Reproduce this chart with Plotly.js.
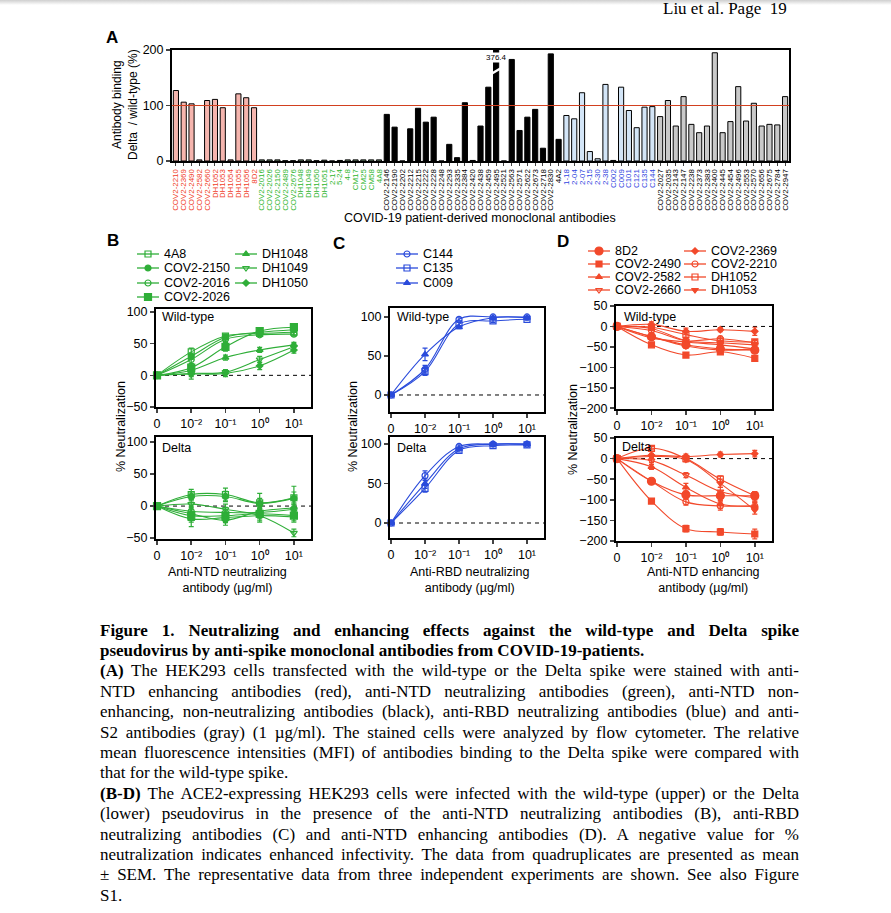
<!DOCTYPE html>
<html><head><meta charset="utf-8">
<script src="https://cdn.plot.ly/plotly-3.0.1.min.js"></script>
<style>
body{margin:0;padding:0;background:#fff;}
#wrap{position:relative;width:891px;height:913px;overflow:hidden;background:#fff;}
#chart{position:absolute;left:0;top:0;width:891px;height:913px;}
.cap{position:absolute;left:100px;width:720px;font-family:"Liberation Serif","Times New Roman",serif;font-size:17px;line-height:21px;height:21px;color:#000;white-space:nowrap;}
.cap span{display:inline-block;white-space:nowrap;}
#hdr{position:absolute;left:663px;top:-1px;font-family:"Liberation Serif","Times New Roman",serif;font-size:17px;line-height:20px;color:#000;white-space:pre;}
#shade{position:absolute;left:0;top:0;width:891px;height:5px;background:linear-gradient(#cfcfcf,#fff);}
</style></head>
<body><div id="wrap"><div id="chart"></div><div id="shade"></div><div id="hdr">Liu et al. Page  19</div><div id="caption"></div></div>
<script>
// ---------- Panel A data ----------
const redNames=['COV2-2210','COV2-2369','COV2-2490','COV2-2582','COV2-2660','DH1052','DH1053','DH1054','DH1055','DH1056','8D2'];
const redVals=[127,106,103,2,109,111,96,2,121,114,96];
const greenNames=['COV2-2016','COV2-2026','COV2-2150','COV2-2489','COV2-2676','DH1048','DH1049','DH1050','DH1051','2-17','5-24','4-8','CM17','CM25','CM58','4A8'];
const greenVals=[2,2,2,0.5,0.5,2,2,0.5,1.5,0,1,2,2,2,2,2];
const blackNames=['COV2-2146','COV2-2190','COV2-2202','COV2-2212','COV2-2215','COV2-2222','COV2-2228','COV2-2248','COV2-2293','COV2-2335','COV2-2384','COV2-2420','COV2-2438','COV2-2459','COV2-2495','COV2-2521','COV2-2563','COV2-2571','COV2-2622','COV2-2673','COV2-2718','COV2-2830','4A2'];
const blackVals=[84,61,0,58,95,70,79,0,30,6,105,1,63,133,376.4,0,183,55,79,93,23,193,39];
const blueNames=['1-18','2-04','2-07','2-15','2-30','2-38','C002','C009','C101','C121','C135','C144'];
const blueVals=[82,76,123,17,4,138,1,133,91,60,97,98];
const grayNames=['COV2-2027','COV2-2035','COV2-2143','COV2-2147','COV2-2238','COV2-2373','COV2-2383','COV2-2400','COV2-2445','COV2-2454','COV2-2496','COV2-2553','COV2-2570','COV2-2656','COV2-2675','COV2-2784','COV2-2947'];
const grayVals=[80,109,63,116,66,51,63,195,51,71,134,72,104,63,66,65,116];
const brokenLabel='376.4';

// ---------- Panels B-D data ----------
const conc=[0,0.01,0.1,1,10];
const concTickText=['0','10\u207B\u00B2','10\u207B\u00B9','10\u2070','10\u00B9'];

const bNames=['4A8','COV2-2150','COV2-2016','COV2-2026','DH1048','DH1049','DH1050'];
const bWT=[[0,37,62,66,68],[0,30,60,68,72],[0,25,57,64,65],[0,12,45,70,76],[0,8,28,40,48],[0,3,5,25,45],[0,2,3,15,40]];
const bWTerr=[[1,6,3,3,4],[1,5,4,3,3],[1,6,4,3,3],[1,6,7,3,4],[1,5,4,4,4],[1,9,4,5,5],[1,4,5,6,5]];
const bDelta=[[0,18,18,5,13],[0,15,15,4,12],[0,-8,-10,-10,-5],[0,-15,-15,-12,-15],[0,-20,-18,-15,-17],[0,3,-5,-15,-42],[0,-12,-22,-8,-3]];
const bDeltaErr=[[1,8,10,15,18],[1,7,8,8,10],[1,8,8,8,8],[1,10,10,8,8],[1,12,8,10,8],[1,8,8,8,6],[1,10,8,8,8]];

const cNames=['C144','C135','C009'];
const cWT=[[0,33,97,100,100],[0,30,91,95,97],[0,52,87,99,99]];
const cWTerr=[[1,5,2,1,1],[1,5,2,2,1],[1,8,2,1,1]];
const cDelta=[[0,60,97,100,100],[0,44,92,98,99],[0,50,94,100,100]];
const cDeltaErr=[[1,6,2,1,1],[1,5,2,1,1],[1,6,2,1,1]];

const dNames=['8D2','COV2-2490','COV2-2582','COV2-2660','COV2-2369','COV2-2210','DH1052','DH1053'];
const dWT=[[0,-25,-45,-55,-58],[0,-45,-70,-62,-78],[0,-28,-38,-45,-55],[0,-5,-35,-40,-45],[0,5,-12,-8,-12],[0,-10,-35,-30,-40],[0,-2,-20,-35,-38],[0,-25,-48,-58,-55]];
const dWTerr=[[1,6,6,6,6],[1,4,6,6,6],[1,5,5,5,5],[1,5,6,6,6],[1,6,8,5,10],[1,5,6,6,6],[1,5,6,6,6],[1,5,6,6,6]];
const dDelta=[[0,-55,-88,-90,-90],[0,-103,-170,-178,-183],[0,-20,-70,-110,-115],[0,-5,-40,-80,-95],[0,8,5,10,12],[0,-55,-105,-115,-115],[0,25,0,-50,-90],[0,5,-2,-60,-125]];
const dDeltaErr=[[1,6,10,12,10],[1,4,8,8,12],[1,6,10,10,8],[1,5,6,10,10],[1,5,6,6,8],[1,6,8,10,10],[1,4,6,8,10],[1,5,6,10,10]];

// ---------- styles ----------
const W=891,H=913;
const fx=p=>p/W, fy=p=>1-p/H;
const FONT='"Liberation Sans", Arial, sans-serif';
const GREEN='#2fae38', BLUE='#2a4bdb', RED='#f2492b';
const LBL={red:'#f03c28',green:'#2db52d',black:'#000',blue:'#2f45e0',gray:'#000'};
const bSym=['square-open','circle','circle-open','square','triangle-up','triangle-down-open','diamond'];
const bSize=[6,6,6,7,6,6,5];
const cSym=['circle-open','square-open','triangle-up'];
const cSize=[6,6,6];
const dSym=['circle','square','triangle-up','triangle-down-open','diamond','circle-open','square-open','triangle-down'];
const dSize=[8,6,6,6,5,6,6,6];

const xpos=conc.map(c=>c===0?-3:Math.log10(c));

const traces=[];
// Panel A bars
const groups=[[redNames,redVals,'#f5b5ae','red'],[greenNames,greenVals,'#b8e6b8','green'],[blackNames,blackVals,'#000000','black'],[blueNames,blueVals,'#d3e5f7','blue'],[grayNames,grayVals,'#c9c9c9','gray']];
const allNames=[],allText=[];
groups.forEach(g=>{
  traces.push({type:'bar',x:g[0],y:g[1],xaxis:'x',yaxis:'y',marker:{color:g[2],line:{color:'#000',width:1}},showlegend:false,hoverinfo:'x+y'});
  g[0].forEach(n=>{allNames.push(n);allText.push('<span style="color:'+LBL[g[3]]+'">'+n+'</span>');});
});

// curve panels
function addCurves(names,vals,errs,syms,sizes,color,ax){
  names.forEach((n,i)=>{
    traces.push({type:'scatter',mode:'lines+markers',x:xpos,y:vals[i],xaxis:'x'+ax,yaxis:'y'+ax,
      line:{shape:'spline',smoothing:1,width:1.1,color:color},
      marker:{symbol:syms[i],size:sizes[i],color:color,line:{color:color,width:1.2}},
      error_y:{type:'data',array:errs[i],visible:true,color:color,thickness:1.2,width:2.5},
      name:n,showlegend:false,cliponaxis:false});
  });
}
addCurves(bNames,bWT,bWTerr,bSym,bSize,GREEN,2);
addCurves(bNames,bDelta,bDeltaErr,bSym,bSize,GREEN,3);
addCurves(cNames,cWT,cWTerr,cSym,cSize,BLUE,4);
addCurves(cNames,cDelta,cDeltaErr,cSym,cSize,BLUE,5);
addCurves(dNames,dWT,dWTerr,dSym,dSize,RED,6);
addCurves(dNames,dDelta,dDeltaErr,dSym,dSize,RED,7);

// legend keys (overlay axis in pixel units)
const annotations=[];
function legendCol(names,syms,sizes,color,x0,rows,offset){
  names.forEach((n,k)=>{
    const i=k+offset; const y=rows[k];
    traces.push({type:'scatter',mode:'lines',x:[x0,x0+22],y:[y,y],xaxis:'x8',yaxis:'y8',line:{color:color,width:1.3},showlegend:false,hoverinfo:'skip'});
    traces.push({type:'scatter',mode:'markers',x:[x0+11],y:[y],xaxis:'x8',yaxis:'y8',marker:{symbol:syms[i],size:sizes[i],color:color,line:{color:color,width:1.2}},showlegend:false,hoverinfo:'skip'});
    annotations.push({xref:'paper',yref:'paper',x:fx(x0+25),y:fy(y),xanchor:'left',yanchor:'middle',text:n,showarrow:false,font:{size:12.5,color:'#000',family:FONT}});
  });
}
legendCol(bNames.slice(0,4),bSym,bSize,GREEN,137,[254,268,283,297],0);
legendCol(bNames.slice(4),bSym,bSize,GREEN,235,[254,268,283],4);
legendCol(cNames,cSym,cSize,BLUE,396,[254,268,283],0);
legendCol(dNames.slice(0,4),dSym,dSize,RED,588,[251,264,277,290],0);
legendCol(dNames.slice(4),dSym,dSize,RED,684,[251,264,277,290],4);

// ---------- layout ----------
const layout={width:W,height:H,margin:{l:0,r:0,t:0,b:0},paper_bgcolor:'#fff',plot_bgcolor:'rgba(0,0,0,0)',
  font:{family:FONT,color:'#000',size:12.5},barmode:'overlay',bargap:0.34,showlegend:false,
  annotations:annotations,shapes:[]};

layout.xaxis={domain:[fx(172),fx(789)],type:'category',categoryorder:'array',categoryarray:allNames,tickmode:'array',tickvals:allNames,ticktext:allText,
  tickangle:-90,tickfont:{size:7.9,family:FONT},ticks:'outside',ticklen:3,tickwidth:1,showline:true,mirror:true,linewidth:2,linecolor:'#000',
  showgrid:false,zeroline:false,anchor:'y',automargin:false,fixedrange:true};
layout.yaxis={domain:[fy(161),fy(50)],range:[0,200],tickvals:[0,100,200],ticks:'outside',ticklen:4,tickwidth:1.5,showline:true,mirror:true,linewidth:2,
  linecolor:'#000',showgrid:false,zeroline:false,tickfont:{size:12.5},anchor:'x',automargin:false,fixedrange:true};
layout.shapes.push({type:'line',xref:'x domain',yref:'y',x0:0,x1:1,y0:100,y1:100,line:{color:'#d2401f',width:1.2},layer:'above'});
annotations.push({xref:'x',yref:'y',x:'COV2-2495',y:186,text:brokenLabel,showarrow:false,font:{size:8,color:'#000'},bgcolor:'#fff',borderpad:0});

function curveAxes(ax,px0,px1,py0,py1,yr,yt){
  layout['xaxis'+ax]={domain:[fx(px0),fx(px1)],range:[-3.03,1.5],tickmode:'array',tickvals:xpos,ticktext:concTickText,ticks:'outside',ticklen:4,tickwidth:1.5,
    showline:true,mirror:true,linewidth:2,linecolor:'#000',showgrid:false,zeroline:false,anchor:'y'+ax,tickfont:{size:12.5},automargin:false,fixedrange:true};
  layout['yaxis'+ax]={domain:[fy(py1),fy(py0)],range:yr,tickmode:'array',tickvals:yt,ticks:'outside',ticklen:4,tickwidth:1.5,
    showline:true,mirror:true,linewidth:2,linecolor:'#000',showgrid:false,zeroline:false,anchor:'x'+ax,tickfont:{size:12.5},automargin:false,fixedrange:true};
  layout.shapes.push({type:'line',xref:'x'+ax,yref:'y'+ax,x0:-3,x1:1.5,y0:0,y1:0,line:{color:'#000',width:1,dash:'4px,4px'},layer:'below'});
}
curveAxes(2,156,311,309,407,[-50,104.7],[100,50,0,-50]);
curveAxes(3,156,311,437,539,[-51.5,108],[100,50,0,-50]);
curveAxes(4,390,544,308,412,[-21.8,111.5],[100,50,0]);
curveAxes(5,390,544,437,538,[-19,109],[100,50,0]);
curveAxes(6,616,772,306,409,[-202,50],[50,0,-50,-100,-150,-200]);
curveAxes(7,616,772,438,541,[-200,50],[50,0,-50,-100,-150,-200]);
layout.xaxis8={domain:[0,1],range:[0,W],visible:false,fixedrange:true,anchor:'y8'};
layout.yaxis8={domain:[0,1],range:[H,0],visible:false,fixedrange:true,anchor:'x8'};

function txt(x,y,t,opt){annotations.push(Object.assign({xref:'paper',yref:'paper',x:fx(x),y:fy(y),text:t,showarrow:false,xanchor:'center',yanchor:'middle',font:{size:12.5,color:'#000',family:FONT}},opt||{}));}
txt(112,38,'<b>A</b>',{font:{size:17,color:'#000',family:FONT}});
txt(113,241,'<b>B</b>',{font:{size:17,color:'#000',family:FONT}});
txt(339,243,'<b>C</b>',{font:{size:17,color:'#000',family:FONT}});
txt(563,242,'<b>D</b>',{font:{size:17,color:'#000',family:FONT}});
txt(125,105,'Antibody binding<br>Delta  / wild-type (%)',{textangle:-90,font:{size:12,color:'#000',family:FONT}});
txt(480,218,'COVID-19 patient-derived monoclonal antibodies');
txt(121,427,'% Neutralization',{textangle:-90});
txt(353,427,'% Neutralization',{textangle:-90});
txt(573,430,'% Neutralization',{textangle:-90});
txt(227,580,'Anti-NTD neutralizing<br>antibody (µg/ml)');
txt(470,580,'Anti-RBD neutralizing<br>antibody (µg/ml)');
txt(703,580,'Anti-NTD enhancing<br>antibody (µg/ml)');
txt(160,317,'Wild-type',{xanchor:'left'});
txt(160,448,'Delta',{xanchor:'left'});
txt(395,317,'Wild-type',{xanchor:'left'});
txt(395,448,'Delta',{xanchor:'left'});
txt(622,317,'Wild-type',{xanchor:'left'});
txt(620,447,'Delta',{xanchor:'left'});

Plotly.newPlot('chart',traces,layout,{staticPlot:true,displayModeBar:false}).then(()=>{
  // white slash on broken bar
  const xa=document.getElementById('chart')._fullLayout.xaxis;
  const idx=allNames.indexOf('COV2-2495');
  const cx=xa._offset+xa.l2p(idx);
  Plotly.relayout('chart',{shapes:layout.shapes.concat([{type:'line',xref:'paper',yref:'paper',x0:fx(cx-5),x1:fx(cx+5),y0:fy(74),y1:fy(68),line:{color:'#fff',width:2.5}}])});
});

// ---------- caption ----------
const capLines=[
 ['<b>Figure 1. Neutralizing and enhancing effects against the wild-type and Delta spike</b>',0],
 ['<b>pseudovirus by anti-spike monoclonal antibodies from COVID-19-patients.</b>',1],
 ['<b>(A)</b> The HEK293 cells transfected with the wild-type or the Delta spike were stained with anti-',0],
 ['NTD enhancing antibodies (red), anti-NTD neutralizing antibodies (green), anti-NTD non-',0],
 ['enhancing, non-neutralizing antibodies (black), anti-RBD neutralizing antibodies (blue) and anti-',0],
 ['S2 antibodies (gray) (1 µg/ml). The stained cells were analyzed by flow cytometer. The relative',0],
 ['mean fluorescence intensities (MFI) of antibodies binding to the Delta spike were compared with',0],
 ['that for the wild-type spike.',1],
 ['<b>(B-D)</b> The ACE2-expressing HEK293 cells were infected with the wild-type (upper) or the Delta',0],
 ['(lower) pseudovirus in the presence of the anti-NTD neutralizing antibodies (B), anti-RBD',0],
 ['neutralizing antibodies (C) and anti-NTD enhancing antibodies (D). A negative value for %',0],
 ['neutralization indicates enhanced infectivity. The data from quadruplicates are presented as mean',0],
 ['± SEM. The representative data from three independent experiments are shown. See also Figure',0],
 ['S1.',1]
];
const CAPW=699;
const capEl=document.getElementById('caption');
capLines.forEach((l,i)=>{
  const d=document.createElement('div');
  d.className='cap';
  d.style.top=(630+i*20.4-10.5)+'px';
  const s=document.createElement('span');
  s.innerHTML=l[0];
  d.appendChild(s);
  capEl.appendChild(d);
  const w=s.getBoundingClientRect().width;
  const nsp=(s.textContent.match(/ /g)||[]).length;
  if(w>CAPW){s.style.transformOrigin='0 0';s.style.transform='scaleX('+(CAPW/w)+')';}
  else if(!l[1]&&nsp>0){s.style.wordSpacing=((CAPW-w)/nsp)+'px';}
});
</script></body></html>
